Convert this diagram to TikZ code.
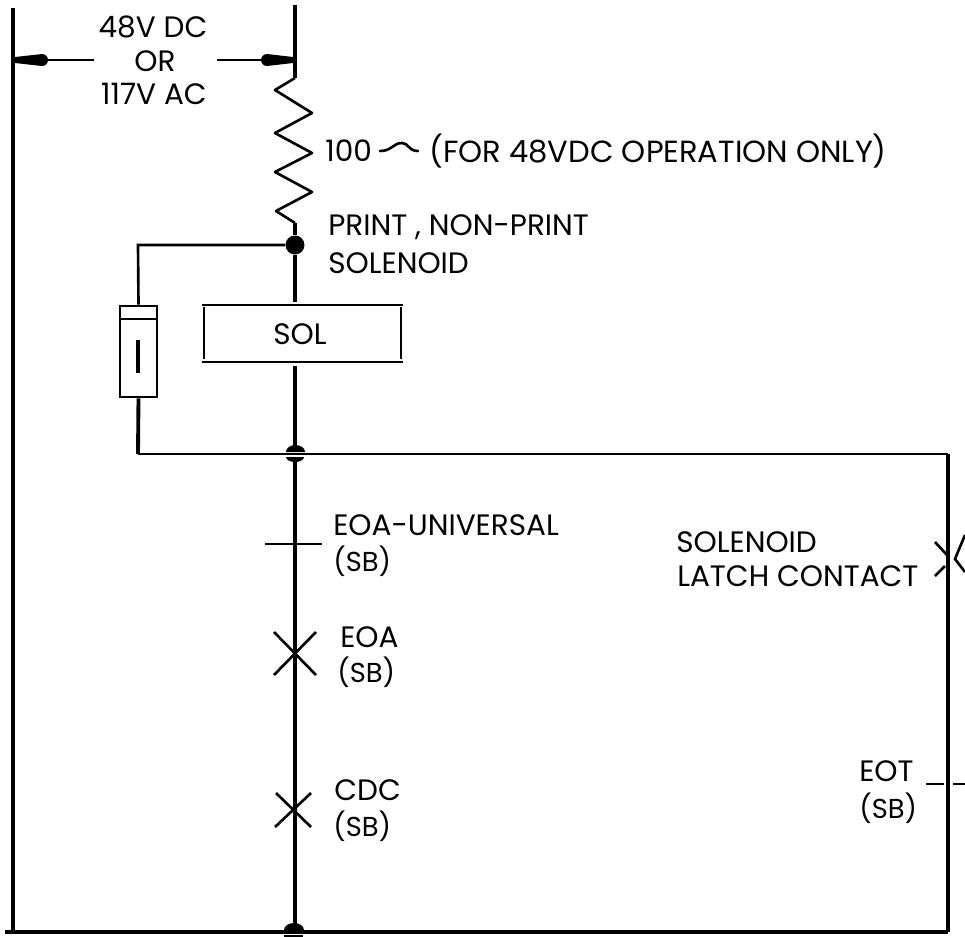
\documentclass[tikz,border=0pt]{standalone}
\usepackage{fontspec}
\setmainfont{Poppins}
\tikzset{
  rail/.style={line width=2.8pt,line cap=butt},
  wire/.style={line width=2.2pt},
  thinwire/.style={line width=1.5pt},
  label/.style={anchor=west,inner sep=0pt,font=\fontsize{16.8}{18}\selectfont},
  clabel/.style={inner sep=0pt,font=\fontsize{16.8}{18}\selectfont},
  sblabel/.style={anchor=west,inner sep=0pt,font=\fontsize{15.6}{16}\selectfont},
}
\newcommand{\sbtext}{(S\kern0ptB)}
\begin{document}
\begin{tikzpicture}[x=0.02cm,y=-0.02cm]
\useasboundingbox (0,0) rectangle (965,937);
% Points on the rails
\coordinate (railtop) at (13,8);
\coordinate (railbot) at (13,932);
\coordinate (railleft) at (13,60);
\coordinate (centertop) at (295,5);
\coordinate (centerarrow) at (295,60);
\coordinate (restop) at (295,78);
\coordinate (resbot) at (295,223);
\coordinate (solin) at (295,302);
\coordinate (solout) at (295,366);
\coordinate (topjoin) at (295,447);
\coordinate (lowjoin) at (295,460);
\coordinate (botjoin) at (295,930);
\coordinate (cornerbot) at (948,932);
\coordinate (cornertop) at (948,454);
\coordinate (fusecorner) at (138,245);
\coordinate (fuselow) at (138,454);
\coordinate (botleft) at (5,932);
% Dot and the two supply rails
\node[circle,fill=black,inner sep=0pt,minimum size=0.38cm] (dot) at (295,245) {};
\draw[rail] (railtop) -- (railbot);
\draw[rail] (botleft) -- (cornerbot);
\draw[rail] (cornertop) -- (cornerbot);
\draw[wire] (centertop) -- (restop);
% Draw the resistor
\draw[thinwire,line join=round] (restop) -- (275,90) -- (312,113) -- (275,133) -- (312,153)
  -- (275,172) -- (312,192) -- (276,211) -- (resbot);
\draw[wire] (resbot) -- (dot);
% Draw the voltage arrows
\node[clabel] (dc) at (153,27) {48V DC};
\node[clabel] (or) at (155,61) {OR};
\node[clabel] (ac) at (154,94) {117V AC};
\coordinate (arrowl) at (94,60);
\coordinate (arrowr) at (217,60);
\draw[line width=0.9pt] (arrowl) -- (railleft);
\draw[line width=0.9pt] (arrowr) -- (centerarrow);
\fill (railleft) -- (15,57) -- (42,54) to[out=0,in=90] (48,60) to[out=-90,in=0] (42,66) -- (15,63) -- cycle;
\fill (centerarrow) -- (293,57) -- (267,54) to[out=180,in=90] (261,60) to[out=-90,in=180] (267,66) -- (293,63) -- cycle;
% Draw the resistor value
\node[label] (ohms) at (325,151) {100};
\draw[thinwire,line cap=round] (380,151) .. controls (392,151) and (393,143) .. (402,143)
  .. controls (409,143) and (408,151) .. (418,151);
\node[label,font=\fontsize{17.4}{18}\selectfont] (note) at (429,151) {(FOR 48VDC OPERATION ONLY)};
\node[label] (printlab) at (328,227) {PRINT , NON-PRINT};
\node[label] (sollab) at (328,263) {SOLENOID};
% Draw the fuse branch
\node[draw,line width=1.5pt,inner sep=0pt,minimum width=0.74cm,minimum height=1.82cm] (fuse) at (138.5,351.5) {};
\draw[thinwire] (120,319) -- (157,319);
\draw[line width=2.4pt] (138,340) -- (138,373);
\draw[thinwire] (dot) -- (fusecorner) -- (fuse.north);
\draw[wire] (fuse.south) -- (fuselow);
% Draw the solenoid
\node[clabel] (sol) at (300,334) {SOL};
\draw[thinwire] (202,305) -- (403,305);
\draw[line width=1.6pt] (202,362) -- (403,362);
\draw[thinwire] (204,307) -- (204,359);
\draw[thinwire] (401,307) -- (401,359);
\draw[wire] (dot) -- (solin);
\draw[wire] (solout) -- (topjoin);
% Draw the junction on the top wire
\draw[thinwire] (fuselow) -- (cornertop);
\fill (286,452) arc (180:360:9.5 and 7) -- cycle;
\fill (286,457) -- (304,457) arc (0:180:9 and 5) -- cycle;
\draw[wire] (lowjoin) -- (botjoin);
\fill (284,930) arc (180:360:10 and 7) -- cycle;
\draw[line width=0.8pt] (284,936) -- (303,936);
% Draw the contacts on the center wire
\draw[thinwire] (265,544) -- (322,544);
\draw[thinwire] (274,632) -- (316,675);
\draw[thinwire] (316,632) -- (274,675);
\draw[thinwire] (276,793) -- (311,827);
\draw[thinwire] (311,793) -- (275,827);
\node[label] (univ) at (333,525) {EOA-UNIVERSAL};
\node[sblabel] (univsb) at (333,561) {\sbtext};
\node[label] (eoa) at (340,637) {EOA};
\node[sblabel] (eoasb) at (337,672) {\sbtext};
\node[label] (cdc) at (334,790) {CDC};
\node[sblabel] (cdcsb) at (333,826) {\sbtext};
% Draw the contacts on the right wire
\node[label] (latch) at (676,542) {SOLENOID};
\node[label] (latchb) at (677,576) {LATCH CONTACT};
\draw[thinwire] (935,542) -- (947,555);
\draw[thinwire] (935,576) -- (945,566);
\draw[thinwire] (965,535) -- (955,559) -- (965,572);
\node[label] (eot) at (859,771) {EOT};
\node[sblabel] (eotsb) at (859,808) {\sbtext};
\draw[thinwire] (926,784) -- (944,784);
\draw[thinwire] (953,784) -- (965,784);
\end{tikzpicture}
\end{document}
